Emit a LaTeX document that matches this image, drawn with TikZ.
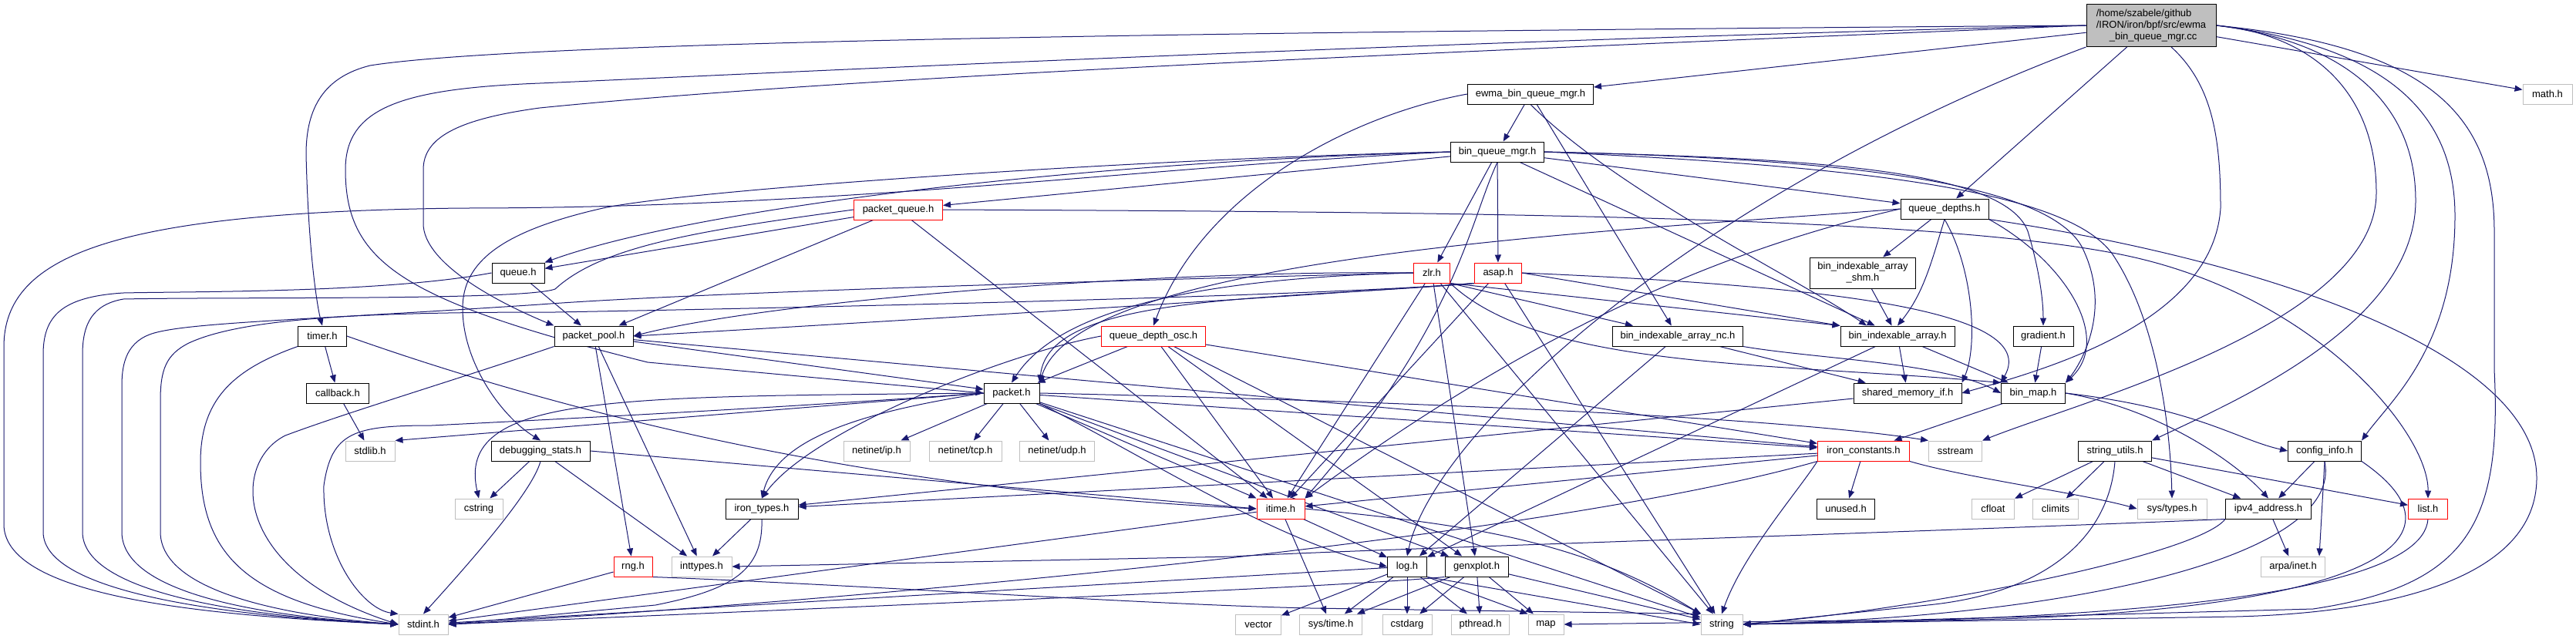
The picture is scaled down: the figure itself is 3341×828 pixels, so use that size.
\documentclass[tikz,border=0pt]{standalone}
\usepackage{fontspec}
\setmainfont{Liberation Sans}
\usetikzlibrary{arrows.meta}
\definecolor{eblue}{HTML}{191970}
\definecolor{lgray}{HTML}{BFBFBF}
\definecolor{rootgray}{HTML}{BFBFBF}
\pgfdeclarelayer{bg}
\pgfsetlayers{bg,main}
\tikzset{
  lab/.style={font=\fontsize{13}{15}\selectfont, inner sep=0pt, minimum height=26, line width=1pt, fill=white},
  nb/.style={lab, draw=black},
  nr/.style={lab, draw=red},
  ng/.style={lab, draw=lgray},
  nroot/.style={lab, draw=black, fill=rootgray},
  e/.style={draw=eblue, line width=1pt, -{Triangle[length=10pt,width=8pt]}},
}
\begin{document}
\begin{tikzpicture}[x=1pt,y=-1pt]
\useasboundingbox (0,0) rectangle (3341,828);
% nodes
\node[nroot, minimum width=168, minimum height=55, align=left] (cc) at (2790,33) {/home/szabele/github\\/IRON/iron/bpf/src/ewma\\\hspace*{17pt}\_bin\_queue\_mgr.cc};
\node[ng, minimum width=64] (math) at (3304,122) {math.h};
\node[nb, minimum width=163] (ewma) at (1985,122) {ewma\_bin\_queue\_mgr.h};
\node[nb, minimum width=121] (bqm) at (1942,197) {bin\_queue\_mgr.h};
\node[nr, minimum width=115] (pq) at (1165,272) {packet\_queue.h};
\node[nb, minimum width=114] (qd) at (2522,271) {queue\_depths.h};
\node[nb, minimum width=68] (queue) at (672,354) {queue.h};
\node[nr, minimum width=47] (zlr) at (1857,354) {zlr.h};
\node[nr, minimum width=61] (asap) at (1943,354) {asap.h};
\node[nb, minimum width=137, minimum height=40, align=center] (shm) at (2416,354) {bin\_indexable\_array\\\_shm.h};
\node[nb, minimum width=63] (timer) at (418,436) {timer.h};
\node[nb, minimum width=102] (pp) at (770,436) {packet\_pool.h};
\node[nr, minimum width=135] (qdo) at (1496,436) {queue\_depth\_osc.h};
\node[nb, minimum width=169] (nc) at (2176,436) {bin\_indexable\_array\_nc.h};
\node[nb, minimum width=148] (bia) at (2461,436) {bin\_indexable\_array.h};
\node[nb, minimum width=78] (grad) at (2650,436) {gradient.h};
\node[nb, minimum width=81] (cb) at (438,510) {callback.h};
\node[nb, minimum width=72] (pkt) at (1312,510) {packet.h};
\node[nb, minimum width=140] (smif) at (2474,510) {shared\_memory\_if.h};
\node[nb, minimum width=83] (bmap) at (2637,510) {bin\_map.h};
\node[ng, minimum width=64] (stdlib) at (480,585) {stdlib.h};
\node[nb, minimum width=128] (dbg) at (701,585) {debugging\_stats.h};
\node[ng, minimum width=86] (ip) at (1137,585) {netinet/ip.h};
\node[ng, minimum width=94] (tcp) at (1252,585) {netinet/tcp.h};
\node[ng, minimum width=97] (udp) at (1371,585) {netinet/udp.h};
\node[nr, minimum width=119] (ic) at (2417,585) {iron\_constants.h};
\node[ng, minimum width=69] (sstream) at (2536,585) {sstream};
\node[nb, minimum width=95] (su) at (2743,585) {string\_utils.h};
\node[nb, minimum width=95] (ci) at (3015,585) {config\_info.h};
\node[ng, minimum width=62] (cstring) at (621,660) {cstring};
\node[nb, minimum width=94] (it) at (988,660) {iron\_types.h};
\node[nr, minimum width=62] (itime) at (1661,660) {itime.h};
\node[nb, minimum width=75] (unused) at (2394,660) {unused.h};
\node[ng, minimum width=55] (cfloat) at (2585,660) {cfloat};
\node[ng, minimum width=59] (climits) at (2666,660) {climits};
\node[ng, minimum width=90] (systypes) at (2817,660) {sys/types.h};
\node[nb, minimum width=111] (ipv4) at (2942,660) {ipv4\_address.h};
\node[nr, minimum width=51] (list) at (3149,660) {list.h};
\node[nr, minimum width=50] (rng) at (821,735) {rng.h};
\node[ng, minimum width=78] (inttypes) at (910,735) {inttypes.h};
\node[nb, minimum width=51] (log) at (1825,735) {log.h};
\node[nb, minimum width=82] (genx) at (1915,735) {genxplot.h};
\node[ng, minimum width=83] (arpa) at (2974,735) {arpa/inet.h};
\node[ng, minimum width=64] (stdint) at (549,810) {stdint.h};
\node[ng, minimum width=59] (vector) at (1632,810) {vector};
\node[ng, minimum width=81] (systime) at (1726,810) {sys/time.h};
\node[ng, minimum width=64] (cstdarg) at (1825,810) {cstdarg};
\node[ng, minimum width=75] (pthread) at (1920,810) {pthread.h};
\node[ng, minimum width=46] (map) at (2005,810) {map};
\node[ng, minimum width=54] (string) at (2233,810) {string};
% edges
\begin{pgfonlayer}{bg}
% cc
\draw[e] (cc) -- (ewma);
\draw[e] (cc) -- (qd);
\draw[e] (cc) -- (math);
\draw[e] (cc.west) .. controls (1800,40) and (700,50) .. (480,85) .. controls (420,100) and (397,140) .. (397,200) .. controls (400,330) and (412,400) .. (timer.north);
\draw[e] (cc.west) .. controls (1800,55) and (1000,95) .. (700,108) .. controls (520,115) and (448,140) .. (448,220) .. controls (448,340) and (520,390) .. (840,470) -- (pkt.west);
\draw[e] (cc.west) .. controls (1800,70) and (1100,100) .. (700,140) .. controls (590,155) and (549,180) .. (549,220) -- (549,290) .. controls (549,340) and (640,390) .. (pp.north west);
\draw[e] (cc.south west) .. controls (2200,250) and (1860,560) .. (log.north);
\draw[e] ([xshift=26pt]cc.south) .. controls (2870,110) and (2880,180) .. (2880,270) .. controls (2870,420) and (2650,480) .. (smif.east);
\draw[e] (cc.east) .. controls (3000,45) and (3082,120) .. (3082,250) .. controls (3082,420) and (2700,520) .. (sstream.north east);
\draw[e] (cc.east) .. controls (3050,55) and (3133,140) .. (3133,260) .. controls (3133,420) and (2900,520) .. (su.north east);
\draw[e] (cc.east) .. controls (3100,60) and (3184,150) .. (3184,280) .. controls (3184,450) and (3100,520) .. (ci.north east);
\draw[e] (cc.east) .. controls (3150,60) and (3235,150) .. (3235,300) -- (3235,480) .. controls (3245,680) and (3200,760) .. (3000,790) -- (string.east);
% ewma
\draw[e] (ewma) -- (bqm);
\draw[e] (ewma.west) .. controls (1750,150) and (1560,250) .. (qdo.north);
\draw[e] (ewma) -- (nc);
\draw[e] (ewma.south) .. controls (2100,250) and (2330,360) .. ([xshift=-40pt]bia.north);
% bqm
\draw[e] (bqm.west) .. controls (1400,210) and (900,270) .. (queue.north east);
\draw[e] (bqm) -- (pq);
\draw[e] (bqm.west) .. controls (1500,205) and (900,245) .. (782,270) .. controls (650,300) and (600,340) .. (600,400) .. controls (600,470) and (650,540) .. (dbg.north);
\draw[e] (bqm.west) .. controls (1500,215) and (1100,270) .. (600,270) .. controls (150,275) and (5,330) .. (5,450) -- (5,680) .. controls (5,780) and (300,800) .. (stdint.west);
\draw[e] (bqm) -- (zlr);
\draw[e] (bqm.south) .. controls (1905,290) and (1890,420) .. (itime.north east);
\draw[e] (bqm) -- (asap);
\draw[e] (bqm) -- (bia);
\draw[e] (bqm) -- (qd);
\draw[e] (bqm.east) .. controls (2350,205) and (2600,220) .. (2630,300) .. controls (2645,350) and (2650,390) .. (grad.north);
\draw[e] (bqm.east) .. controls (2350,205) and (2650,230) .. (2700,320) .. controls (2740,400) and (2700,470) .. (bmap.north east);
\draw[e] (bqm.east) .. controls (2400,215) and (2680,245) .. (2740,330) .. controls (2800,420) and (2815,560) .. (systypes.north);
% pq
\draw[e] (pq) -- (pp);
\draw[e] (pq) -- (queue);
\draw[e] (pq) -- (itime);
\draw[e] (pq.west) .. controls (900,300) and (780,320) .. (720,375) .. controls (680,390) and (300,385) .. (160,388) .. controls (120,395) and (107,420) .. (107,460) -- (107,690) .. controls (107,770) and (320,800) .. (stdint.west);
\draw[e] (pq.east) .. controls (1900,275) and (2500,280) .. (2750,330) .. controls (3000,380) and (3150,560) .. (list.north);
% queue
\draw[e] (queue) -- (pp);
\draw[e] (queue.west) .. controls (500,380) and (250,378) .. (160,380) .. controls (80,385) and (56,410) .. (56,460) -- (56,690) .. controls (56,770) and (300,800) .. (stdint.west);
% qd
\draw[e] (qd.west) .. controls (2100,300) and (1400,330) .. (pkt.north east);
\draw[e] (qd.west) .. controls (2250,320) and (2000,420) .. (itime.north east);
\draw[e] (qd) -- (shm);
\draw[e] (qd.south) .. controls (2505,340) and (2495,380) .. (bia.north);
\draw[e] (qd.south) .. controls (2560,350) and (2565,450) .. (smif.north east);
\draw[e] (qd.south east) .. controls (2680,340) and (2740,440) .. (bmap.north east);
\draw[e] (qd.south east) .. controls (2950,340) and (3290,460) .. (3290,620) .. controls (3290,750) and (3100,795) .. (2900,800) -- (string.east);
% zlr
\draw[e] (zlr.west) .. controls (1500,350) and (1000,390) .. (pp.east);
\draw[e] (zlr.west) .. controls (1400,365) and (900,380) .. (700,395) .. controls (400,415) and (250,418) .. (200,432) .. controls (165,442) and (158,470) .. (158,500) -- (158,690) .. controls (158,770) and (340,800) .. (stdint.west);
\draw[e] (zlr.west) .. controls (1600,360) and (1380,390) .. (pkt.north);
\draw[e] (zlr) -- (itime);
\draw[e] (zlr) -- (genx);
\draw[e] (zlr.south east) -- (nc);
\draw[e] (zlr.south east) -- (bia.north west);
\draw[e] (zlr.south east) .. controls (2000,480) and (2300,470) .. (bmap.north west);
\draw[e] (zlr) -- (string);
% asap
\draw[e] (asap.south west) .. controls (1600,390) and (1100,420) .. (pp.east);
\draw[e] (asap.south west) .. controls (1700,385) and (1000,400) .. (720,405) .. controls (500,405) and (320,410) .. (245,445) .. controls (215,460) and (208,480) .. (208,520) -- (208,690) .. controls (208,770) and (380,800) .. (stdint.west);
\draw[e] (asap.south west) .. controls (1650,390) and (1360,380) .. (pkt.north east);
\draw[e] (asap) -- (itime);
\draw[e] (asap.east) -- (bia.north west);
\draw[e] (asap.east) .. controls (2350,370) and (2650,400) .. (bmap.north west);
\draw[e] (asap) -- (string);
% timer
\draw[e] (timer) -- (cb);
\draw[e] (timer.east) .. controls (800,560) and (1200,640) .. (itime.west);
\draw[e] (timer.south west) .. controls (300,480) and (260,520) .. (260,600) .. controls (260,720) and (320,780) .. (stdint.west);
% pp
\draw[e] (pp) -- (pkt);
\draw[e] (pp) -- (rng);
\draw[e] (pp) -- (inttypes);
\draw[e] (pp) -- (ic);
\draw[e] (pp.south west) .. controls (600,490) and (450,535) .. (370,565) .. controls (300,600) and (300,740) .. (stdint.west);
% qdo
\draw[e] (qdo) -- (pkt);
\draw[e] (qdo.west) .. controls (1300,460) and (1050,560) .. (it.north);
\draw[e] (qdo) -- (itime);
\draw[e] (qdo) -- (genx);
\draw[e] (qdo) -- (string);
\draw[e] (qdo) -- (ic);
% pkt
\draw[e] (pkt) -- (ip);
\draw[e] (pkt) -- (tcp);
\draw[e] (pkt) -- (udp);
\draw[e] (pkt.west) .. controls (1150,530) and (1010,560) .. (it.north);
\draw[e] (pkt) -- (itime);
\draw[e] (pkt.south east) .. controls (1500,600) and (1650,700) .. (log.west);
\draw[e] (pkt) -- (string);
\draw[e] (pkt) -- (ic);
\draw[e] (pkt.east) .. controls (1800,520) and (2300,540) .. (sstream.north west);
\draw[e] (pkt) -- (genx);
\draw[e] (pkt.west) -- (stdlib.north east);
\draw[e] (pkt.west) .. controls (800,515) and (590,510) .. (cstring.north);
\draw[e] (pkt.west) .. controls (1000,530) and (700,545) .. (560,552) .. controls (460,552) and (430,560) .. (420,630) .. controls (418,720) and (470,790) .. (stdint.north west);
% cb, dbg, rng, it
\draw[e] (cb) -- (stdlib);
\draw[e] (dbg) -- (cstring);
\draw[e] (dbg.south) .. controls (690,640) and (600,740) .. (stdint.north);
\draw[e] (dbg) -- (inttypes);
\draw[e] (dbg.east) -- (itime.west);
\draw[e] (rng) -- (stdint);
\draw[e] (rng.south east) .. controls (1100,758) and (1500,785) .. (1700,789) -- (string.north west);
\draw[e] (it) -- (inttypes);
\draw[e] (it.south) .. controls (990,740) and (950,765) .. (850,785) -- (stdint.east);
% itime
\draw[e] (itime) -- (log);
\draw[e] (itime) -- (systime);
\draw[e] (itime.east) .. controls (1900,680) and (2050,700) .. (string.north west);
\draw[e] (itime) -- (stdint);
% log
\draw[e] (log) -- (vector);
\draw[e] (log) -- (systime);
\draw[e] (log) -- (cstdarg);
\draw[e] (log) -- (pthread);
\draw[e] (log.south east) -- (map.north west);
\draw[e] (log.south east) -- (string.west);
\draw[e] (log) -- (stdint);
% genx
\draw[e] (genx) -- (systime);
\draw[e] (genx) -- (cstdarg);
\draw[e] (genx) -- (pthread);
\draw[e] (genx) -- (map);
\draw[e] (genx) -- (string);
\draw[e] (genx.south west) .. controls (1750,760) and (1400,775) .. (stdint.east);
% ic
\draw[e] (ic) -- (it);
\draw[e] (ic) -- (itime);
\draw[e] (ic) -- (unused);
\draw[e] (ic.south west) .. controls (2330,640) and (2260,720) .. (string.north);
\draw[e] (ic.south east) .. controls (2550,620) and (2700,640) .. (systypes.west);
\draw[e] (ic.south west) .. controls (2000,700) and (1100,780) .. (stdint.east);
% su
\draw[e] (su) -- (cfloat);
\draw[e] (su) -- (climits);
\draw[e] (su) -- (ipv4);
\draw[e] (su) -- (list);
\draw[e] (su.south) .. controls (2735,700) and (2650,770) .. (2500,785) -- (string.east);
% ci
\draw[e] (ci) -- (ipv4);
\draw[e] (ci.south) -- ([xshift=-8pt]arpa.north east);
\draw[e] (ci.south) .. controls (3040,720) and (2700,800) .. (string.east);
\draw[e] (ci.south east) .. controls (3240,720) and (3000,810) .. (2400,805) -- (map.east);
% ipv4
\draw[e] (ipv4) -- (arpa);
\draw[e] (ipv4.south west) .. controls (2500,690) and (1700,715) .. (1600,722) -- (inttypes.east);
\draw[e] (ipv4.south west) .. controls (2850,720) and (2500,790) .. (string.east);
% list
\draw[e] (list.south) .. controls (3140,790) and (2600,805) .. (string.east);
% bmap
\draw[e] (bmap) -- (ic);
\draw[e] (bmap.east) .. controls (2800,530) and (2900,600) .. (ipv4.north);
\draw[e] (bmap.east) .. controls (2850,530) and (2900,570) .. (ci.west);
% nc, bia, shm, grad, smif
\draw[e] (nc) -- (smif);
\draw[e] (nc.south east) .. controls (2350,465) and (2520,470) .. (bmap.west);
\draw[e] (nc) -- (log);
\draw[e] (bia) -- (smif);
\draw[e] (bia) -- (bmap);
\draw[e] (bia) -- (log);
\draw[e] (shm) -- (bia);
\draw[e] (grad) -- (bmap);
\draw[e] (smif) -- (it);
\end{pgfonlayer}
\end{tikzpicture}
\end{document}
